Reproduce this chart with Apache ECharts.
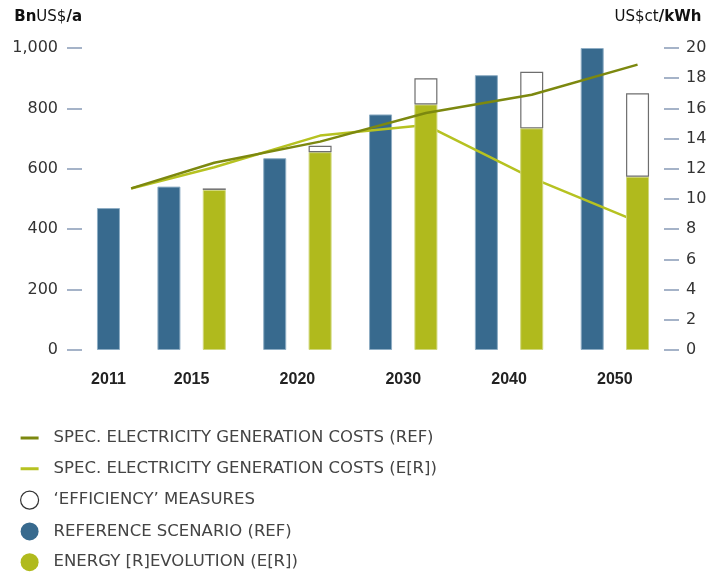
<!DOCTYPE html>
<html>
<head>
<meta charset="utf-8">
<script src="https://cdn.jsdelivr.net/npm/echarts@6/dist/echarts.min.js"></script>
<style>
  html, body { margin: 0; padding: 0; background: #fff; }
  #chart { width: 720px; height: 573px; }
</style>
</head>
<body>
<div id="chart"></div>
<script>
// ---- data ----
const years = ['2011', '2015', '2020', '2030', '2040', '2050'];
const refScenario = [470, 541, 635, 780, 910, 1000];          // Bn US$/a
const energyRevolution = [null, 530, 655, 813, 734, 574];     // Bn US$/a
const efficiencyMeasures = [null, 5, 21, 87, 187, 276];       // Bn US$/a (stacked on E[R])
const costRef = [10.7, 12.4, 13.8, 15.7, 16.9, 18.9];         // US$ct/kWh
const costER = [10.7, 12.1, 14.2, 14.9, 11.4, 8.5];           // US$ct/kWh
const leftTicks = { min: 0, max: 1000, interval: 200 };
const rightTicks = { min: 0, max: 20, interval: 2 };

const legendNames = {
  costRef: 'SPEC. ELECTRICITY GENERATION COSTS (REF)',
  costER: 'SPEC. ELECTRICITY GENERATION COSTS (E[R])',
  eff: '\u2018EFFICIENCY\u2019 MEASURES',
  ref: 'REFERENCE SCENARIO (REF)',
  er: 'ENERGY [R]EVOLUTION (E[R])'
};

// ---- slot layout on a fine category axis (groups: REF, gap, E[R]) ----
const SLOTS = 77;
function refSlot(i) { return i === 0 ? 3 : 11 + (i - 1) * 14; }
function erSlot(i) { return refSlot(i) + 6; }
function labelSlot(i) { return i === 0 ? 3 : refSlot(i) + 3; }
function lineSlot(i) { return i === 0 ? 6 : erSlot(i); }

const slotNames = [];
const slotLabels = [];
for (let k = 0; k < SLOTS; k++) { slotNames.push('s' + k); slotLabels.push(''); }
const refData = new Array(SLOTS).fill(null);
const erData = new Array(SLOTS).fill(null);
const effData = new Array(SLOTS).fill(null);
const costRefData = new Array(SLOTS).fill(null);
const costERData = new Array(SLOTS).fill(null);
years.forEach(function (y, i) {
  slotLabels[labelSlot(i)] = y;
  refData[refSlot(i)] = refScenario[i];
  if (energyRevolution[i] != null) erData[erSlot(i)] = energyRevolution[i];
  if (efficiencyMeasures[i] != null) effData[erSlot(i)] = efficiencyMeasures[i];
  costRefData[lineSlot(i)] = costRef[i];
  costERData[lineSlot(i)] = costER[i];
});

const BLUE = '#386a8e';
const GREEN = '#b0ba1d';
const LINE_DARK = '#7c880f';
const LINE_LIGHT = '#b6c221';
const TICK = '#a5b3c8';
const LINE_ICON = 'path://M0,0M0,7.5H18V10.5H0ZM18,18';

const chart = echarts.init(document.getElementById('chart'), null, { renderer: 'canvas' });
chart.setOption({
  animation: false,
  backgroundColor: '#ffffff',
  grid: { left: 82, right: 56, top: 48, bottom: 223 },
  legend: {
    orient: 'vertical',
    left: 20,
    top: 429,
    padding: 0,
    itemWidth: 18,
    itemHeight: 18,
    itemGap: 12.75,
    selectedMode: false,
    textStyle: { fontFamily: 'DejaVu Sans', fontSize: 16.5, color: '#444444', padding: [0, 0, 0, 10] },
    data: [
      { name: legendNames.costRef, icon: LINE_ICON, itemStyle: { color: LINE_DARK, borderWidth: 0 } },
      { name: legendNames.costER, icon: LINE_ICON, itemStyle: { color: LINE_LIGHT, borderWidth: 0 } },
      { name: legendNames.eff, icon: 'circle', itemStyle: { color: '#ffffff', borderColor: '#333333', borderWidth: 1.2 } },
      { name: legendNames.ref, icon: 'circle', itemStyle: { color: BLUE, borderWidth: 0 } },
      { name: legendNames.er, icon: 'circle', itemStyle: { color: GREEN, borderWidth: 0 } }
    ]
  },
  xAxis: {
    type: 'category',
    data: slotNames,
    axisLine: { show: false },
    axisTick: { show: false },
    splitLine: { show: false },
    axisLabel: {
      interval: 0,
      margin: 22,
      fontFamily: 'Liberation Sans',
      fontWeight: 'bold',
      fontSize: 16,
      color: '#222222',
      formatter: function (v, idx) { return slotLabels[idx]; }
    }
  },
  yAxis: [
    {
      type: 'value',
      min: leftTicks.min, max: leftTicks.max, interval: leftTicks.interval,
      position: 'left',
      name: '{b|Bn}{r|US$}{b|/a}',
      nameLocation: 'end',
      nameGap: 31,
      nameTextStyle: {
        align: 'right', verticalAlign: 'middle',
        rich: {
          b: { fontFamily: 'DejaVu Sans', fontSize: 15, fontWeight: 'bold', color: '#111111' },
          r: { fontFamily: 'DejaVu Sans', fontSize: 15, color: '#111111' }
        }
      },
      axisLine: { show: false },
      axisTick: { show: true, inside: false, length: 15, lineStyle: { color: TICK, width: 2 } },
      splitLine: { show: false },
      axisLabel: {
        margin: 24, fontFamily: 'DejaVu Sans', fontSize: 16, color: '#333333',
        formatter: function (v) { return v.toLocaleString('en-US'); }
      }
    },
    {
      type: 'value',
      min: rightTicks.min, max: rightTicks.max, interval: rightTicks.interval,
      position: 'right',
      name: '{r|US$ct}{b|/kWh}',
      nameLocation: 'end',
      nameGap: 31,
      nameTextStyle: {
        align: 'center', verticalAlign: 'middle', padding: [0, 12, 0, 0],
        rich: {
          b: { fontFamily: 'DejaVu Sans', fontSize: 15, fontWeight: 'bold', color: '#111111' },
          r: { fontFamily: 'DejaVu Sans', fontSize: 15, color: '#111111' }
        }
      },
      axisLine: { show: false },
      axisTick: { show: true, inside: false, length: 15, lineStyle: { color: TICK, width: 2 } },
      splitLine: { show: false },
      axisLabel: { margin: 22, fontFamily: 'DejaVu Sans', fontSize: 16, color: '#333333' }
    }
  ],
  series: [
    {
      name: legendNames.ref,
      type: 'bar',
      data: refData,
      barWidth: 23,
      barGap: '-100%',
      z: 2,
      itemStyle: { color: BLUE, borderColor: '#8eadc4', borderWidth: 1 }
    },
    {
      name: legendNames.costER,
      type: 'line',
      yAxisIndex: 1,
      data: costERData,
      connectNulls: true,
      symbol: 'none',
      z: 3,
      lineStyle: { color: LINE_LIGHT, width: 2.5 },
      itemStyle: { color: LINE_LIGHT }
    },
    {
      name: legendNames.er,
      type: 'bar',
      stack: 'er',
      data: erData,
      barWidth: 23,
      barGap: '-100%',
      z: 4,
      itemStyle: { color: GREEN, borderColor: '#d0d77c', borderWidth: 1 }
    },
    {
      name: legendNames.eff,
      type: 'bar',
      stack: 'er',
      data: effData,
      barWidth: 23,
      barGap: '-100%',
      z: 4,
      itemStyle: { color: '#ffffff', borderColor: '#6e6e6e', borderWidth: 1.2 }
    },
    {
      name: legendNames.costRef,
      type: 'line',
      yAxisIndex: 1,
      data: costRefData,
      connectNulls: true,
      symbol: 'none',
      z: 5,
      lineStyle: { color: LINE_DARK, width: 2.5 },
      itemStyle: { color: LINE_DARK }
    }
  ]
});
</script>
</body>
</html>
